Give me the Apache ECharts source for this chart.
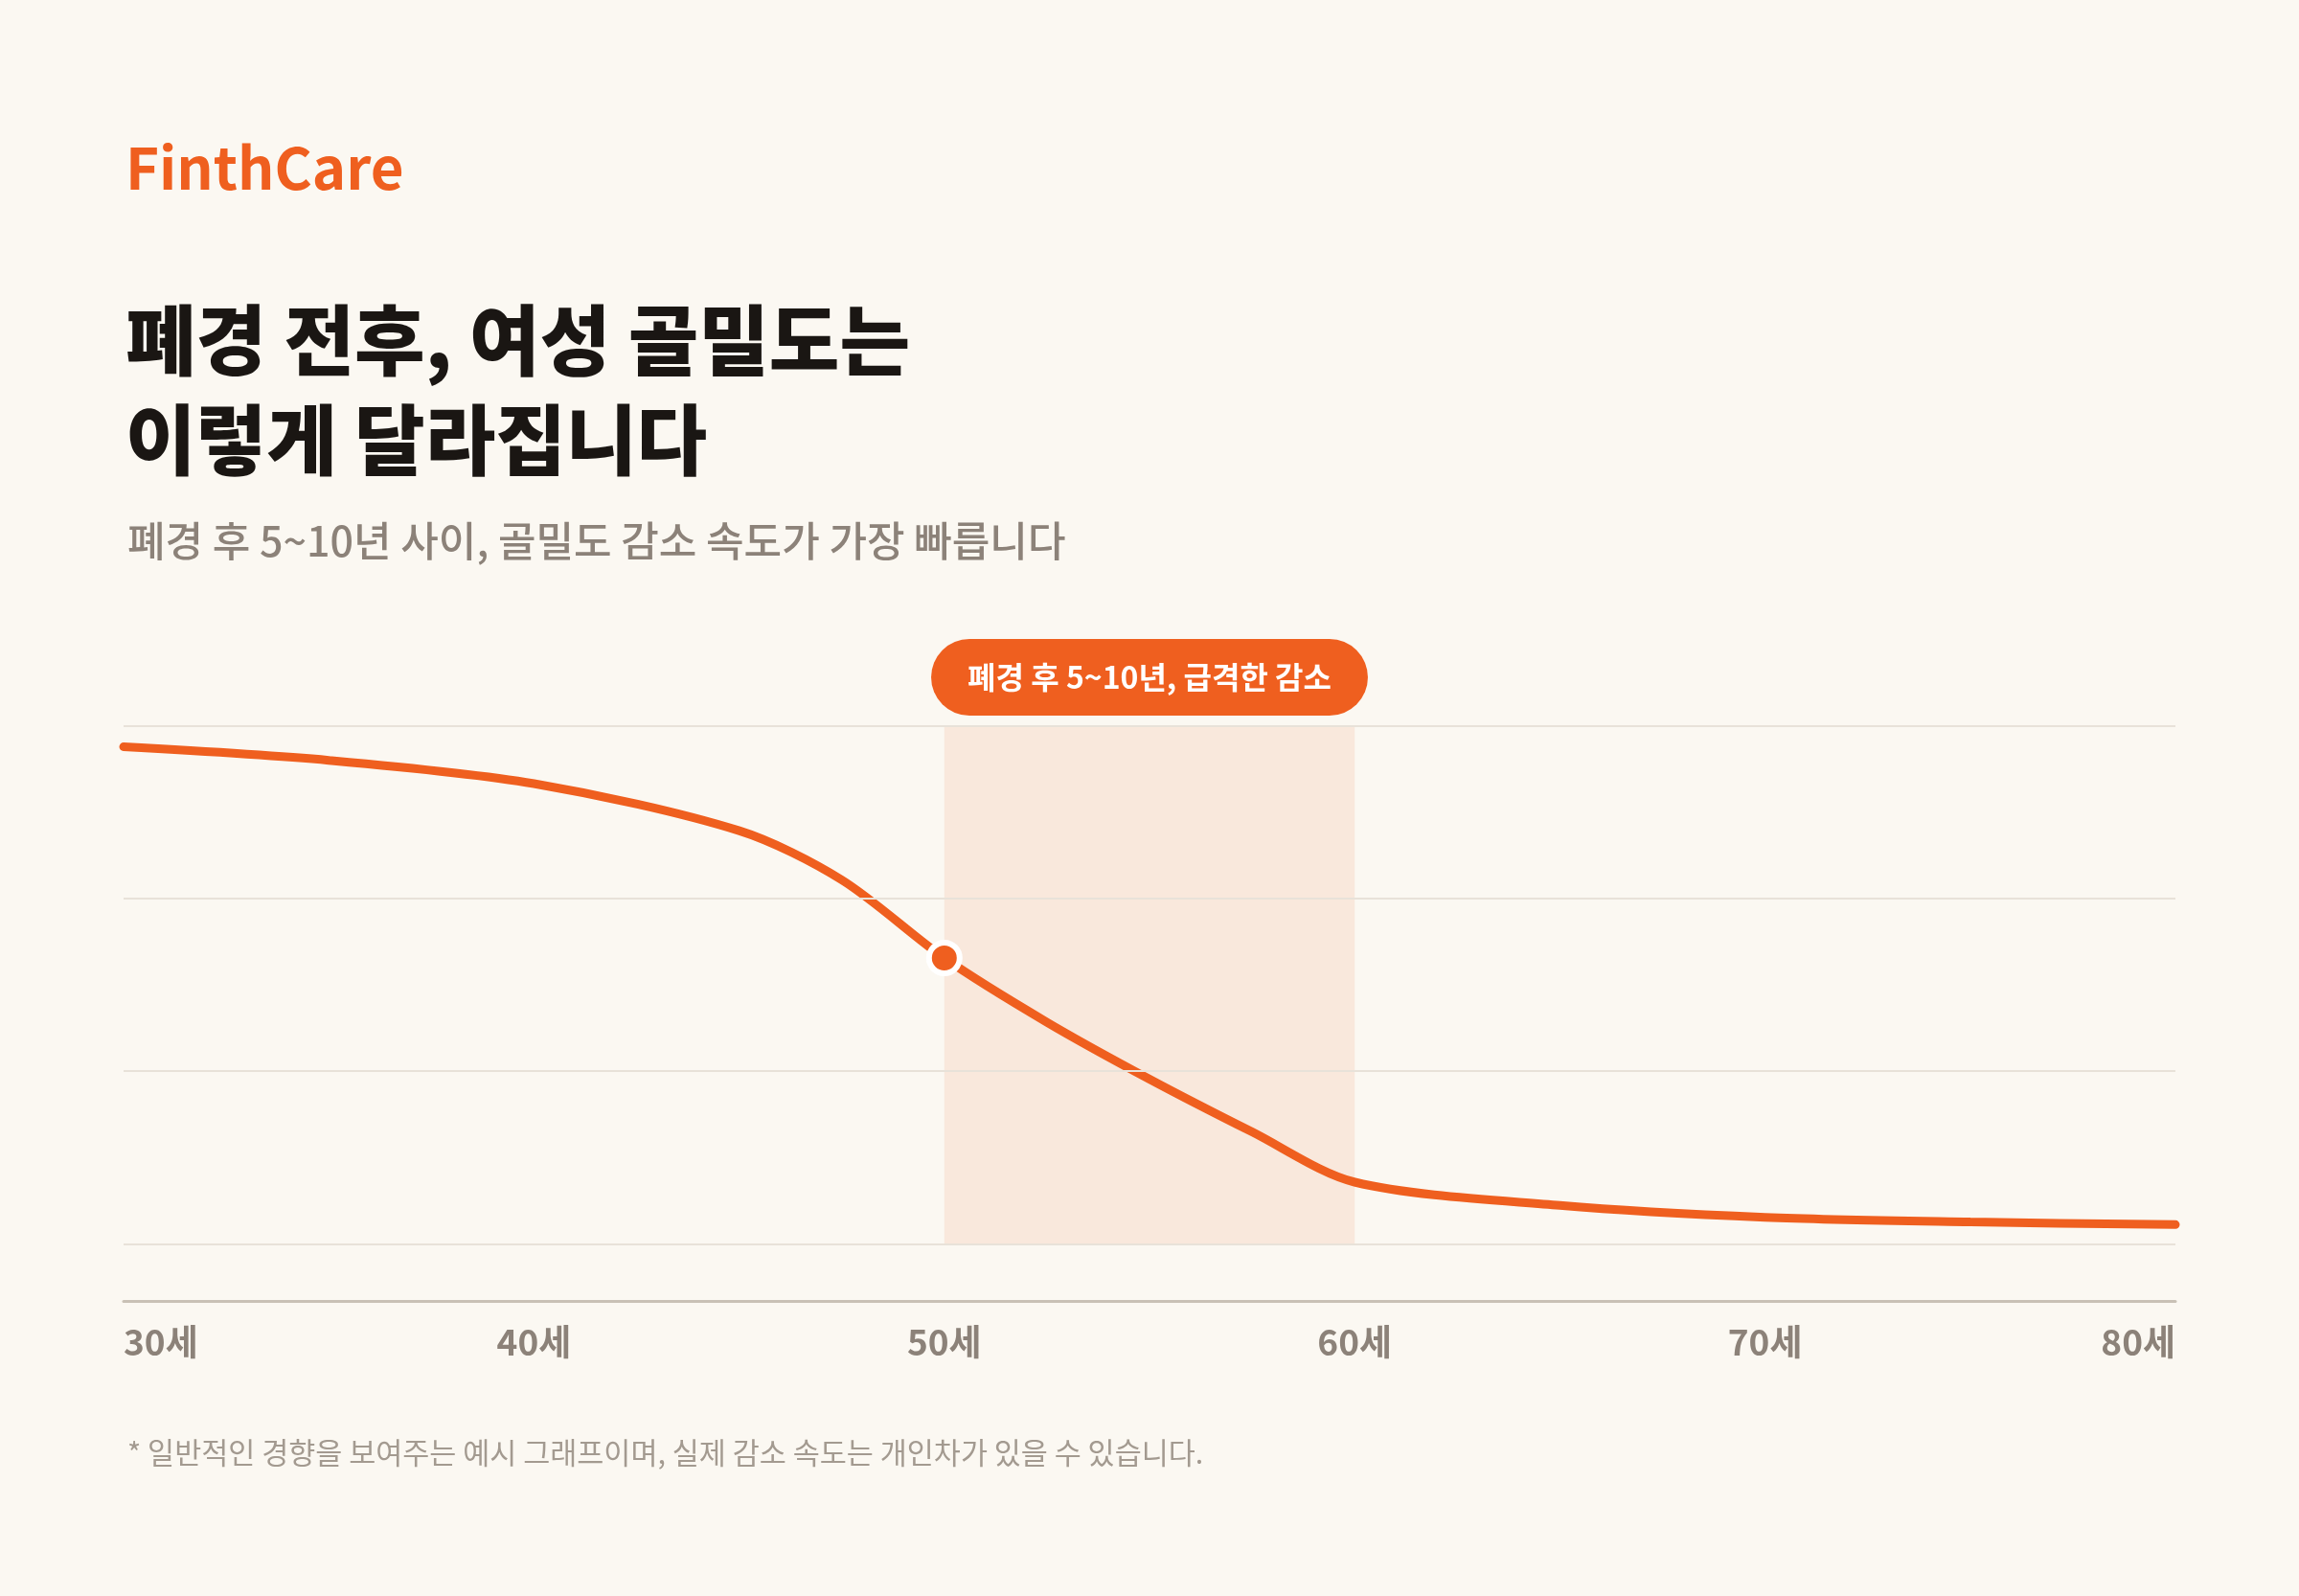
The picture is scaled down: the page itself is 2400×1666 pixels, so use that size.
<!DOCTYPE html>
<html><head><meta charset="utf-8">
<script src="https://cdn.jsdelivr.net/npm/echarts@6/dist/echarts.min.js"></script>
<style>html,body{margin:0;padding:0;background:#FBF8F2;}#c{width:2400px;height:1666px;}</style>
</head><body><div id="c"></div>
<script>
const ages = [30, 35, 40, 45, 47.5, 50, 52.5, 55, 57.5, 60, 65, 70, 75, 80];
const density = [96.0, 93.4, 88.9, 79.8, 70.3, 55.2, 42.8, 31.8, 21.6, 11.9, 7.4, 5.1, 4.2, 3.7];
const gridValues = [0, 33.33, 66.67, 100];
const highlightAge = 50;
const bandRange = [50, 60];
const bandLabel = '폐경 후 5~10년, 급격한 감소';
const font = '"Noto Sans CJK KR", "Noto Sans", sans-serif';
const orange = '#EF5F1F';
const chart = echarts.init(document.getElementById('c'));
chart.setOption({
  backgroundColor: '#FBF8F2',
  textStyle: {fontFamily: font},
  title: [
    {text: 'FinthCare', left: 126, top: 140, textStyle: {fontFamily: font, fontSize: 60, fontWeight: 'bold', color: orange}},
    {text: '폐경 전후, 여성 골밀도는\n이렇게 달라집니다', left: 126, top: 298, textStyle: {fontFamily: font, fontSize: 80, fontWeight: 900, color: '#1A1613', lineHeight: 104}},
    {text: '폐경 후 5~10년 사이, 골밀도 감소 속도가 가장 빠릅니다', left: 128, top: 538, textStyle: {fontFamily: font, fontSize: 43, fontWeight: 500, color: '#8C8279'}},
    {text: '* 일반적인 경향을 보여주는 예시 그래프이며, 실제 감소 속도는 개인차가 있을 수 있습니다.', left: 128, top: 1496, textStyle: {fontFamily: font, fontSize: 30.5, fontWeight: 400, color: '#A39A90'}}
  ],
  grid: {left: 129, right: 129, top: 758, bottom: 308},
  xAxis: {
    type: 'value', min: 30, max: 80, interval: 10,
    axisLine: {show: true, onZero: false, lineStyle: {color: '#C9C1B6', width: 3}},
    axisTick: {show: false}, splitLine: {show: false},
    axisLabel: {formatter: v => v + '세', fontSize: 37, fontWeight: 'bold', color: '#8C8279', margin: 24,
      alignMinLabel: 'left', alignMaxLabel: 'right'}
  },
  yAxis: {
    type: 'value', min: -11.05, max: 100,
    axisLine: {show: false}, axisTick: {show: false}, axisLabel: {show: false}, splitLine: {show: false}
  },
  series: [{
    type: 'line', smooth: 0.3, data: ages.map((a, i) => [a, density[i]]),
    lineStyle: {color: orange, width: 9, cap: 'round'},
    symbol: 'none', z: 3,
    markLine: {
      silent: true, symbol: 'none', label: {show: false},
      lineStyle: {color: '#E8E2D9', width: 2, type: 'solid'},
      data: gridValues.map(v => ({yAxis: v}))
    },
    markPoint: {
      symbol: 'circle', symbolSize: 32,
      itemStyle: {color: orange, borderColor: '#FFFFFF', borderWidth: 6},
      label: {show: false},
      data: [{coord: [highlightAge, density[ages.indexOf(highlightAge)]]}]
    },
    markArea: {
      silent: true,
      itemStyle: {color: 'rgba(239,95,31,0.10)'},
      label: {show: true, position: 'top', distance: 11, color: '#FFFFFF', fontSize: 32, fontWeight: 'bold',
        fontFamily: font, backgroundColor: orange, borderRadius: 40, padding: [21, 38], lineHeight: 38},
      data: [[{xAxis: bandRange[0], yAxis: 100, name: bandLabel}, {xAxis: bandRange[1], yAxis: 0}]]
    }
  }]
});
</script></body></html>
